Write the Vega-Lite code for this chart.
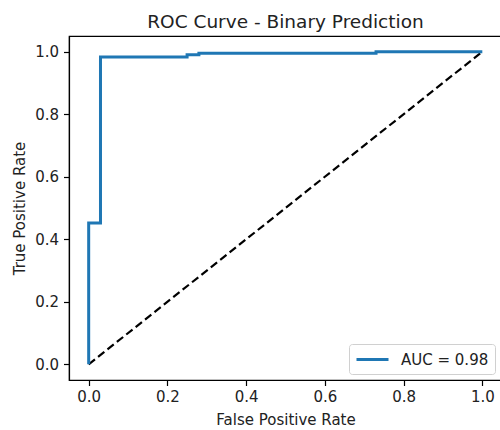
{
  "$schema": "https://vega.github.io/schema/vega-lite/v6.json",
  "width": 433,
  "height": 344,
  "autosize": {"type": "none"},
  "padding": {"left": 69, "top": 36, "right": -2, "bottom": 50},
  "background": "white",
  "config": {
    "font": "DejaVu Sans",
    "view": {"stroke": "#000", "strokeWidth": 1.2},
    "axis": {
      "grid": false,
      "domainColor": "#000",
      "domainWidth": 1.2,
      "tickColor": "#000",
      "tickWidth": 1.2,
      "tickSize": 5.5,
      "labelColor": "#222",
      "titleColor": "#222",
      "labelFont": "DejaVu Sans",
      "titleFont": "DejaVu Sans",
      "labelFontSize": 15,
      "titleFontSize": 15,
      "titleFontWeight": "normal"
    },
    "title": {"font": "DejaVu Sans", "fontSize": 18.5, "fontWeight": "normal", "color": "#222", "offset": 5}
  },
  "title": "ROC Curve - Binary Prediction",
  "datasets": {
    "roc": [
      {"i": 0, "fpr": 0.0, "tpr": 0.0, "series": "AUC = 0.98"},
      {"i": 1, "fpr": 0.0, "tpr": 0.452, "series": "AUC = 0.98"},
      {"i": 2, "fpr": 0.03, "tpr": 0.452, "series": "AUC = 0.98"},
      {"i": 3, "fpr": 0.03, "tpr": 0.983, "series": "AUC = 0.98"},
      {"i": 4, "fpr": 0.25, "tpr": 0.983, "series": "AUC = 0.98"},
      {"i": 5, "fpr": 0.25, "tpr": 0.99, "series": "AUC = 0.98"},
      {"i": 6, "fpr": 0.28, "tpr": 0.99, "series": "AUC = 0.98"},
      {"i": 7, "fpr": 0.28, "tpr": 0.995, "series": "AUC = 0.98"},
      {"i": 8, "fpr": 0.73, "tpr": 0.995, "series": "AUC = 0.98"},
      {"i": 9, "fpr": 0.73, "tpr": 1.0, "series": "AUC = 0.98"},
      {"i": 10, "fpr": 1.0, "tpr": 1.0, "series": "AUC = 0.98"}
    ],
    "diag": [
      {"fpr": 0.0, "tpr": 0.0},
      {"fpr": 1.0, "tpr": 1.0}
    ]
  },
  "layer": [
    {
      "data": {"name": "diag"},
      "mark": {"type": "line", "color": "#000", "strokeDash": [8, 4], "strokeWidth": 2.2},
      "encoding": {
        "x": {"field": "fpr", "type": "quantitative"},
        "y": {"field": "tpr", "type": "quantitative"}
      }
    },
    {
      "data": {"name": "roc"},
      "mark": {"type": "line", "strokeWidth": 3},
      "encoding": {
        "x": {
          "field": "fpr", "type": "quantitative",
          "title": "False Positive Rate",
          "scale": {"domain": [-0.05, 1.05], "nice": false, "zero": false},
          "axis": {"values": [0, 0.2, 0.4, 0.6, 0.8, 1.0], "format": ".1f", "labelPadding": 4, "titlePadding": 8}
        },
        "y": {
          "field": "tpr", "type": "quantitative",
          "title": "True Positive Rate",
          "scale": {"domain": [-0.05, 1.05], "nice": false, "zero": false},
          "axis": {"values": [0, 0.2, 0.4, 0.6, 0.8, 1.0], "format": ".1f", "labelPadding": 5, "titlePadding": 7}
        },
        "order": {"field": "i", "type": "quantitative"},
        "color": {
          "field": "series", "type": "nominal",
          "scale": {"range": ["#1f77b4"]},
          "legend": {
            "title": null,
            "orient": "none",
            "legendX": 280,
            "legendY": 308,
            "symbolType": "M-1,0H3",
            "symbolSize": 256,
            "symbolStrokeWidth": 3,
            "symbolFillColor": "transparent",
            "labelFontSize": 15,
            "labelColor": "#222",
            "labelFont": "DejaVu Sans",
            "labelOffset": 27,
            "padding": 6,
            "strokeColor": "#d0d0d0",
            "fillColor": "white",
            "cornerRadius": 3
          }
        }
      }
    }
  ]
}
